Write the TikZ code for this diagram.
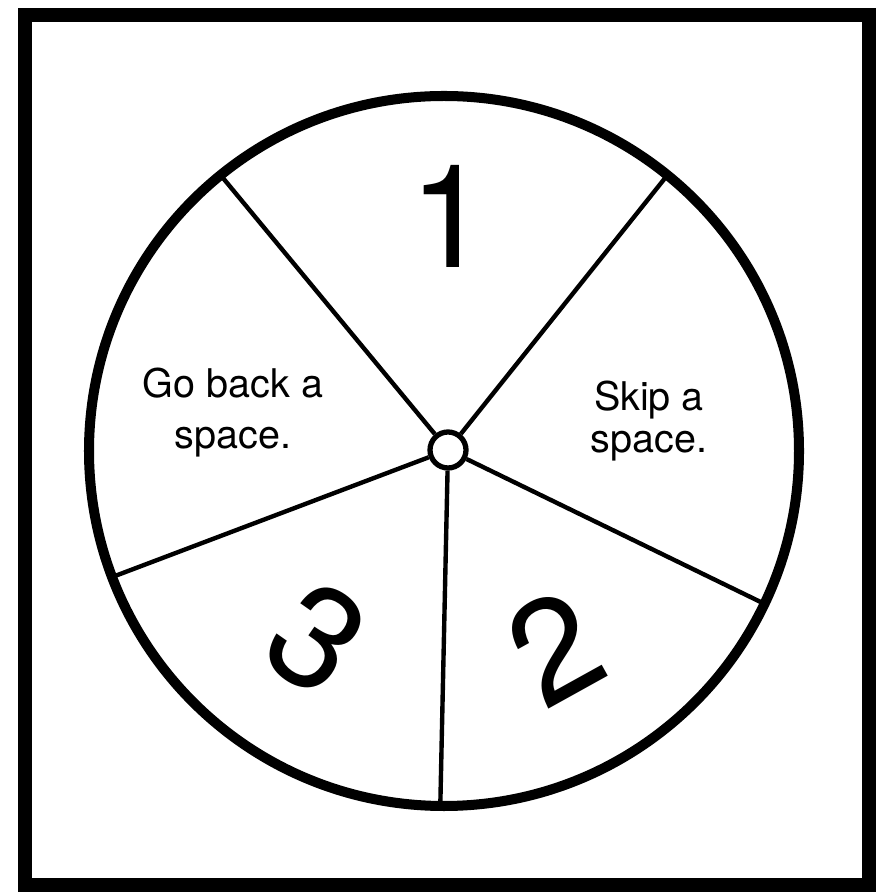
\documentclass[tikz,border=0pt]{standalone}
\usepackage{fontspec}
\setmainfont{TeX Gyre Heros}
\usetikzlibrary{calc}
\tikzset{
  % square frame round the spinner
  frame/.style={draw, line width=8.5pt},
  rim/.style={draw, line width=5.7pt},
  spoke/.style={line width=2.5pt},
  hub/.style={circle, draw, fill=white, line width=3pt, minimum size=0.72cm, inner sep=0pt},
  % sector texts
  bignum/.style={font=\fontsize{82}{82}\selectfont, inner sep=0pt},
  rulebox/.style={font=\fontsize{22.5}{#1}\selectfont, align=center, inner sep=0pt},
  rulebox/.default=29pt
}
\begin{document}
\begin{tikzpicture}[x=0.02cm, y=0.02cm]
  \useasboundingbox (0,0) rectangle (876,892);
  \draw[frame] (25,7) rectangle (869,877);

  % wheel and hub
  \coordinate (wheel) at (444,441);
  \node[hub] (hub) at (448,442) {};

  % spoke ends on the rim
  \coordinate (tl) at ($(wheel)+(129:355)$);
  \coordinate (tr) at ($(wheel)+(51:355)$);
  \coordinate (rt) at ($(wheel)+(-25.5:355)$);
  \coordinate (bt) at ($(wheel)+(-90.6:355)$);
  \coordinate (lt) at ($(wheel)+(-159.2:355)$);

  % --- spokes ---
  \draw[spoke] (hub) -- (tl);
  \draw[spoke] (hub) -- (tr);
  \draw[spoke] (hub) -- (rt);
  \draw[spoke] (hub) -- (bt);
  \draw[spoke] (hub) -- (lt);
  \draw[rim] (wheel) circle[radius=355];

  % --- sector labels ---
  \node[bignum] (one) at (450,676) {1};
  \node[bignum, rotate=29] (two) at (555,245) {2};
  \node[bignum, rotate=-35] (three) at (317,253) {3};
  \node[rulebox=24pt] (skip) at (649,471) {Skip a\\space.};
  \node[rulebox] (back) at (233,479) {Go back a\\space.};
\end{tikzpicture}
\end{document}
